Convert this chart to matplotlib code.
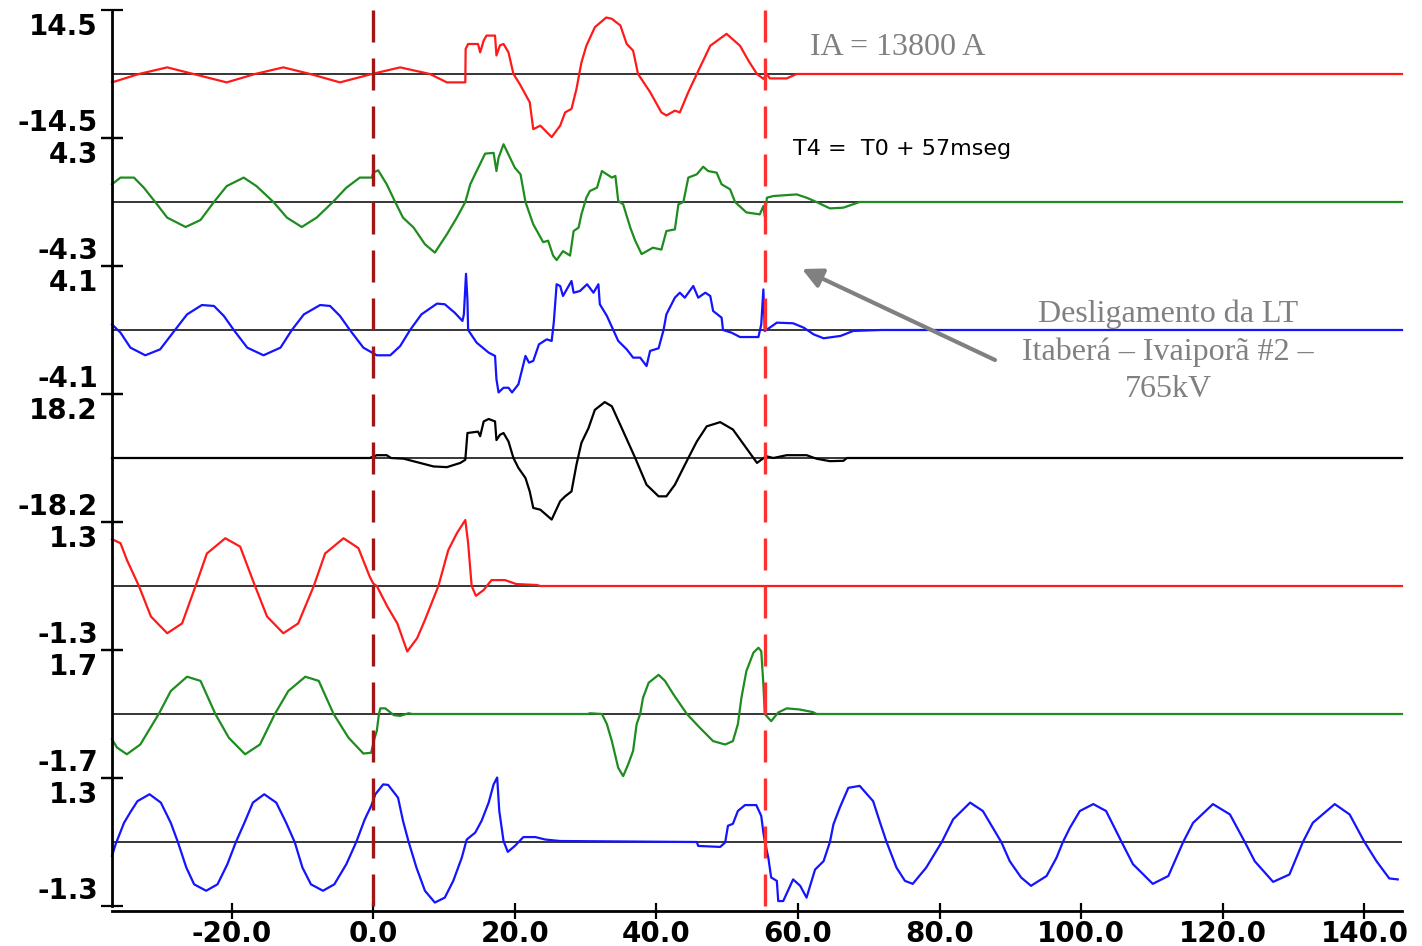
import matplotlib.pyplot as plt
from matplotlib.patches import FancyArrowPatch
from matplotlib.transforms import offset_copy, blended_transform_factory

# escala (+/-) de cada canal, de cima para baixo
escalas = [14.5, 4.3, 4.1, 18.2, 1.3, 1.7, 1.3]
cores = ['#ff1a1a', '#1e8c1e', '#1414ff', '#000000', '#ff1a1a', '#1e8c1e', '#1414ff']

t_c1 = [-36.9, -33.1, -29.1, -25.4, -20.7, -16.7, -12.7, -8.9, -4.7, -0.2, 3.8, 8.0, 10.4, 13.0, 13.05,
        13.4, 14.8, 15.1, 15.6, 16.0, 17.2, 17.4, 17.9, 18.4, 19.1, 19.8, 20.7, 22.1, 22.6, 23.6, 25.2,
        26.4, 27.1, 28.0, 28.7, 29.4, 30.1, 31.3, 32.9, 33.7, 34.9, 35.8, 36.7, 37.4, 39.1, 40.7, 41.4,
        42.6, 43.3, 44.5, 45.7, 47.6, 49.9, 51.8, 53.0, 54.2, 55.1, 55.6, 56.0, 58.4, 59.8, 145.3]
v_c1 = [-1.9, 0, 1.5, 0, -1.9, 0, 1.5, 0, -1.9, 0, 1.5, 0, -1.9, -1.9, 5.7,
        6.8, 6.8, 4.9, 7.6, 8.7, 8.7, 4.2, 6.5, 6.8, 4.9, 0, -2.3, -6.4, -12.5, -11.7, -14.3,
        -11.7, -8.7, -7.9, -3.4, 2.6, 6.4, 10.6, 12.8, 12.5, 11.0, 6.8, 5.3, 0, -4.1, -8.7, -9.4,
        -8.3, -8.7, -4.1, 0, 6.4, 9.1, 6.4, 3.0, 0, -1.1, 0, -1.0, -1.0, 0, 0]

t_c2 = [-36.9, -35.7, -33.8, -32.4, -30.8, -29.1, -26.5, -24.4, -22.5, -20.7, -18.3, -16.5, -14.1,
        -12.2, -10.1, -8.0, -5.7, -3.8, -1.9, -0.2, 0.0, 0.7, 1.9, 3.1, 4.2, 5.7, 7.3, 8.7, 10.4,
        11.8, 13.0, 13.7, 14.6, 15.8, 17.0, 17.4, 17.7, 18.4, 20.0, 20.8, 21.5, 22.6, 24.0, 24.7,
        25.4, 25.9, 26.8, 27.8, 28.3, 29.0, 29.4, 30.1, 30.6, 31.6, 32.3, 33.0, 33.7, 34.2, 34.6,
        35.3, 36.3, 37.0, 37.9, 39.5, 40.7, 41.4, 42.6, 43.1, 43.8, 44.5, 45.7, 46.6, 47.3, 48.5,
        49.2, 50.4, 51.1, 52.7, 54.6, 55.1, 55.3, 55.6, 56.5, 59.8, 61.2, 62.6, 64.5, 66.4, 68.7,
        145.3]
v_c2 = [1.19, 1.64, 1.64, 0.96, 0, -1.05, -1.68, -1.21, 0, 1.07, 1.64, 1.07, 0,
        -1.05, -1.68, -1.05, 0, 0.96, 1.64, 1.64, 1.97, 2.13, 1.19, 0, -1.05, -1.72, -2.84, -3.4, -2.17,
        -1.05, 0, 1.19, 2.08, 3.25, 3.3, 2.08, 2.98, 3.88, 2.3, 1.86, 0, -1.5, -2.7, -2.6,
        -3.6, -3.9, -3.3, -3.6, -1.95, -1.72, -0.83, 0.29, 0.74, 0.96, 2.08, 1.86, 1.64, 1.75, 0.07,
        -0.16, -1.72, -2.6, -3.5, -3.07, -3.2, -1.95, -1.84, -0.16, 0, 1.64, 1.86, 2.37, 2.08, 1.97,
        1.19, 0.85, 0, -0.7, -0.83, -0.27, -0.98, 0.29, 0.4, 0.51, 0.29, 0, -0.43, -0.38, 0,
        0]

t_c3 = [-36.9, -35.7, -34.3, -32.2, -30.1, -28.0, -26.3, -24.2, -22.5, -21.1, -19.7, -17.8, -15.5,
        -13.1, -11.5, -9.8, -7.5, -6.1, -4.7, -3.3, -1.4, 0.5, 2.4, 3.8, 5.2, 6.8, 9.0, 10.1, 11.5,
        12.6, 12.8, 13.1, 13.3, 13.4, 14.6, 16.3, 17.2, 17.4, 17.7, 18.4, 19.1, 19.6, 20.5, 21.5,
        22.0, 22.6, 23.4, 24.5, 25.2, 25.5, 25.9, 26.4, 26.8, 28.0, 28.3, 29.2, 30.2, 31.1, 31.8,
        32.0, 33.0, 33.9, 34.6, 35.8, 36.7, 37.7, 38.6, 39.1, 40.3, 41.0, 41.4, 42.6, 43.3, 44.0,
        45.2, 45.9, 46.9, 47.6, 48.0, 49.2, 49.4, 50.6, 51.8, 54.4, 54.8, 55.1, 55.3, 56.0, 57.0,
        59.3, 60.8, 62.2, 63.6, 66.0, 67.8, 71.8, 145.3]
v_c3 = [0.36, -0.17, -1.13, -1.62, -1.24, 0, 1.0, 1.6, 1.54, 0.9, 0, -1.13, -1.62,
        -1.13, 0, 1.0, 1.6, 1.54, 0.9, 0, -1.13, -1.62, -1.62, -1.03, 0, 1.0, 1.69, 1.65, 1.11,
        0.58, 1.0, 3.6, 1.95, 0, -0.81, -1.45, -1.66, -3.16, -4.0, -3.7, -3.7, -4.0, -3.48, -1.66,
        -2.09, -1.98, -0.92, -0.6, -0.7, 0.5, 2.93, 2.82, 2.18, 3.14, 2.39, 2.5, 2.93, 2.39, 2.93,
        1.65, 0.9, 0, -0.7, -1.24, -1.77, -1.77, -2.31, -1.34, -1.17, 0, 1.0, 2.07, 2.39, 2.07,
        2.82, 2.07, 2.39, 2.18, 1.22, 0.79, 0, -0.17, -0.45, -0.45, 0.36, 2.6, -0.06, 0.15, 0.47,
        0.43, 0.15, -0.28, -0.53, -0.38, -0.06, 0, 0]

t_c4 = [-36.9, -0.5, 0.5, 1.9, 2.5, 4.3, 6.6, 8.5, 10.4, 12.3, 13.0, 13.3, 14.8, 15.1, 15.6, 16.3,
        17.2, 17.4, 17.9, 18.4, 19.1, 19.8, 20.5, 21.5, 22.1, 22.6, 23.6, 25.2, 26.4, 27.1, 28.0,
        28.7, 29.4, 30.4, 31.3, 32.7, 33.7, 35.3, 37.0, 38.6, 40.3, 41.4, 42.6, 44.5, 45.7, 47.1,
        49.0, 50.8, 52.7, 54.2, 54.8, 55.5, 56.5, 58.4, 61.2, 62.6, 64.5, 66.4, 66.9, 145.3]
v_c4 = [0, 0, 0.8, 0.8, 0, -0.2, -1.4, -2.4, -2.6, -1.4, -0.5, 7.1, 7.5, 6.2, 10.4, 11.1,
        10.4, 5.1, 6.6, 7.1, 4.7, 0, -2.8, -5.7, -9.5, -14.2, -14.7, -17.5, -12.3, -10.9, -9.5,
        -1.9, 4.3, 8.5, 13.7, 15.9, 14.7, 7.6, 0, -7.6, -10.9, -10.9, -7.6, 0, 4.7, 9.0,
        10.2, 8.1, 2.8, -1.4, -0.5, 0.5, 0, 0.8, 0.8, -0.2, -0.9, -0.8, 0, 0]

t_c5 = [-36.9, -35.7, -34.8, -33.1, -31.4, -29.1, -27.0, -25.1, -23.5, -20.9, -18.8, -16.7, -15.0,
        -12.7, -10.6, -8.4, -6.8, -4.2, -2.1, -0.5, 0.0, 0.5, 2.0, 3.4, 4.8, 6.2, 7.3, 9.2, 10.6,
        11.8, 13.0, 13.4, 13.9, 14.5, 15.6, 16.7, 18.6, 20.2, 23.1, 23.6, 145.3]
v_c5 = [0.95, 0.87, 0.53, 0, -0.62, -0.96, -0.76, 0, 0.66, 0.97, 0.8, 0, -0.62,
        -0.96, -0.76, 0, 0.66, 0.97, 0.77, 0.19, 0.05, 0, -0.42, -0.76, -1.33, -1.06, -0.69, 0, 0.73,
        1.07, 1.34, 0.87, 0, -0.2, -0.08, 0.12, 0.12, 0.04, 0.02, 0, 0]

t_c6 = [-36.9, -36.2, -34.8, -32.9, -30.3, -28.6, -26.3, -24.4, -22.3, -20.4, -18.1, -16.0, -13.9,
        -12.0, -9.6, -7.7, -5.6, -3.5, -1.4, -0.3, 0.2, 0.5, 0.8, 1.0, 1.7, 2.9, 3.8, 5.0, 5.5,
        30.3, 30.6, 32.3, 33.0, 33.7, 34.6, 35.3, 36.0, 36.7, 37.2, 37.7, 38.1, 38.9, 40.3, 41.2,
        42.4, 44.3, 46.1, 48.0, 49.7, 50.8, 51.5, 52.0, 52.7, 53.7, 54.4, 54.8, 55.1, 55.3, 56.2,
        57.2, 58.4, 60.2, 62.1, 62.6, 145.3]
v_c6 = [-0.67, -0.89, -1.07, -0.81, 0, 0.61, 0.99, 0.88, 0, -0.63, -1.07, -0.81, 0,
        0.61, 0.99, 0.88, 0, -0.63, -1.05, -1.03, -0.63, -0.45, 0, 0.15, 0.15, -0.03, -0.05, 0.02, 0,
        0, 0.02, 0, -0.27, -0.72, -1.43, -1.65, -1.34, -0.98, -0.27, 0, 0.43, 0.83, 1.04, 0.88,
        0.52, 0, -0.36, -0.72, -0.81, -0.72, -0.27, 0.43, 1.14, 1.63, 1.76, 1.67, 0.79, 0, -0.19,
        0.04, 0.15, 0.12, 0.05, 0, 0]

t_c7 = [-36.9, -36.4, -35.2, -34.2, -33.3, -31.6, -30.0, -28.6, -27.6, -26.4, -25.3, -23.6, -22.0,
        -20.6, -19.4, -18.2, -17.0, -15.4, -13.7, -12.3, -11.1, -10.0, -8.8, -7.1, -5.5, -3.8, -2.4,
        -1.2, -0.3, 0.3, 1.4, 2.1, 3.5, 4.2, 5.0, 6.1, 7.3, 8.7, 10.1, 11.3, 12.5, 13.2, 14.4, 15.3,
        16.3, 17.0, 17.5, 17.8, 18.4, 19.0, 20.0, 21.2, 22.9, 24.3, 26.4, 45.7, 45.9, 49.0, 49.7,
        50.1, 50.8, 51.5, 52.5, 54.1, 54.8, 55.1, 55.3, 55.8, 56.2, 57.0, 57.2, 57.9, 59.3, 60.3,
        61.2, 61.7, 62.4, 63.6, 64.5, 65.0, 65.9, 67.1, 68.7, 70.6, 71.5, 72.5, 73.9, 75.1, 76.2,
        78.1, 80.3, 81.9, 84.3, 86.1, 87.5, 88.7, 89.9, 91.5, 92.9, 95.1, 96.5, 97.4, 98.4, 99.8,
        101.7, 103.5, 105.7, 107.3, 110.1, 112.3, 114.4, 115.8, 118.6, 121.0, 123.1, 124.5, 127.1,
        129.4, 131.3, 132.7, 135.8, 137.9, 140.0, 141.7, 143.5, 144.7]
v_c7 = [-0.28, -0.05, 0.39, 0.63, 0.83, 0.97, 0.8, 0.39, 0, -0.52, -0.86, -0.99, -0.86,
        -0.45, 0, 0.39, 0.8, 0.97, 0.8, 0.39, 0, -0.52, -0.86, -0.99, -0.86, -0.45, 0,
        0.46, 0.73, 0.97, 1.17, 1.16, 0.9, 0.43, 0, -0.52, -0.99, -1.23, -1.13, -0.79, -0.32, 0.05, 0.19, 0.43,
        0.8, 1.17, 1.31, 0.63, 0.02, -0.2, -0.08, 0.1, 0.1, 0.05, 0.02, 0, -0.08, -0.1, -0.01,
        0.33, 0.37, 0.63, 0.75, 0.75, 0.53, 0.19, 0.02, -0.32, -0.72, -0.79, -1.2, -1.2, -0.76, -0.89,
        -1.13, -0.89, -0.56, -0.39, 0, 0.36, 0.7, 1.1, 1.14, 0.83, 0.43, 0, -0.52, -0.79, -0.85,
        -0.52, 0, 0.46, 0.8, 0.63, 0.29, 0, -0.39, -0.72, -0.89, -0.69, -0.32, 0, 0.29, 0.63,
        0.77, 0.63, 0, -0.45, -0.85, -0.69, 0, 0.39, 0.77, 0.56, 0, -0.39, -0.81,
        -0.66, 0, 0.39, 0.77, 0.56, 0, -0.39, -0.74, -0.76]

tempos = [t_c1, t_c2, t_c3, t_c4, t_c5, t_c6, t_c7]
valores = [v_c1, v_c2, v_c3, v_c4, v_c5, v_c6, v_c7]

xticks = [-20, 0, 20, 40, 60, 80, 100, 120, 140]
t0 = -0.1   # T0
t4 = 55.4   # T4

W, H = 1422, 946
fig = plt.figure(figsize=(W / 100, H / 100), dpi=100)
axs = fig.subplots(len(escalas), 1, sharex=True,
                   gridspec_kw=dict(hspace=0, left=112 / W, right=1402 / W,
                                    top=1 - 10 / H, bottom=1 - 906 / H))

for ax, esc, cor, t, v in zip(axs, escalas, cores, tempos, valores):
    ax.set_facecolor('none')
    ax.axhline(0, color='black', lw=1.1, zorder=1)
    ax.plot(t, v, color=cor, lw=1.6, zorder=2, clip_on=False)
    ax.set_yticks([-esc, esc])
    ax.set_yticklabels([])
    ax.tick_params(axis='y', direction='inout', length=16, width=1.6)
    ax.tick_params(axis='x', bottom=False)
    for s in ['top', 'right', 'bottom']:
        ax.spines[s].set_visible(False)
    ax.spines['left'].set_linewidth(2)
    tr = ax.get_yaxis_transform()
    ax.text(0, esc, f'{esc:.1f}', transform=offset_copy(tr, fig=fig, x=-14, y=-25, units='dots'),
            ha='right', va='baseline', fontsize=20, fontweight='bold')
    ax.text(0, -esc, f'{-esc:.1f}', transform=offset_copy(tr, fig=fig, x=-14, y=7, units='dots'),
            ha='right', va='baseline', fontsize=20, fontweight='bold')

ax = axs[-1]
ax.spines['bottom'].set_visible(True)
ax.spines['bottom'].set_position(('outward', 3.6))
ax.spines['bottom'].set_linewidth(2)
ax.set_xticks(xticks)
ax.set_xticklabels([f'{x:.1f}' for x in xticks], fontsize=20, fontweight='bold')
ax.tick_params(axis='x', bottom=True, labelbottom=True, direction='inout', length=11, width=1.6, pad=1)

# linhas tracejadas T0 e T4 atravessando todos os canais
trv = blended_transform_factory(ax.transData, fig.transFigure)
for tx, cor in [(t0, '#a01515'), (t4, '#ff3030')]:
    ax.plot([tx, tx], [1 - 10 / H, 1 - 906 / H], transform=trv, color=cor, lw=2.4,
            dashes=(9.6, 4.8), clip_on=False, zorder=5)

for a, esc in zip(axs, escalas):
    a.set_ylim(-esc, esc)
ax.set_xlim(-36.9, 145.3)

fig.text(810 / W, 1 - 55 / H, 'IA = 13800 A', family='Liberation Serif', fontsize=23, color='#808080',
         ha='left', va='baseline')
fig.text(793 / W, 1 - 155 / H, 'T4 =  T0 + 57mseg', fontsize=16, color='black', ha='left', va='baseline')
for linha, yb in [('Desligamento da LT', 321.7), ('Itaberá – Ivaiporã #2 –', 360), ('765kV', 397.3)]:
    fig.text(1168 / W, 1 - yb / H, linha, family='Liberation Serif', fontsize=23, color='#808080',
             ha='center', va='baseline')

seta = FancyArrowPatch((995 / W, 1 - 360 / H), (802 / W, 1 - 269 / H), transform=fig.transFigure,
                       arrowstyle='-|>', mutation_scale=30, color='#808080', lw=3, shrinkA=0, shrinkB=0)
fig.add_artist(seta)

fig.savefig('out.png', dpi=100)
